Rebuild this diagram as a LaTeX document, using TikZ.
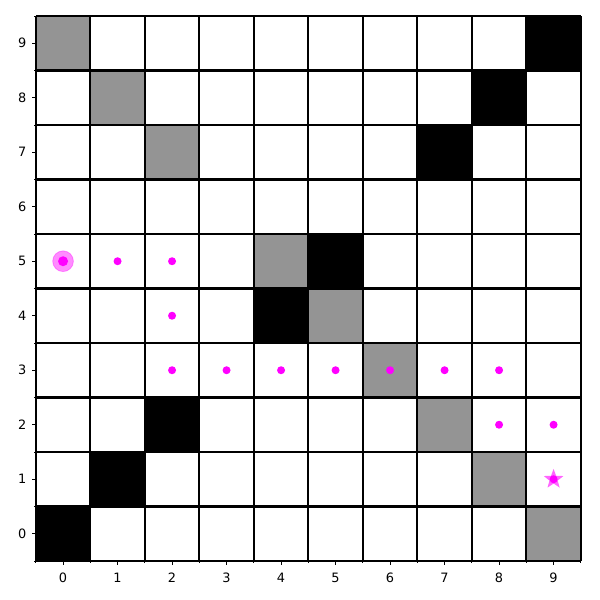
\documentclass[tikz,border=0pt]{standalone}
\usepackage{fontspec}
\setmainfont{DejaVu Sans}
\usetikzlibrary{shapes.geometric}
\definecolor{cellgray}{RGB}{148,148,148}
\definecolor{mag}{RGB}{255,0,255}
\tikzset{
  grayc/.style={fill=cellgray},
  blackc/.style={fill=black},
  gridline/.style={line width=1.8pt,black},
  pathdot/.style={circle,fill=mag,inner sep=0pt,minimum size=0.24cm},
  ticklab/.style={font=\fontsize{11}{13}\selectfont,inner sep=0pt},
  majtick/.style={line width=0.6pt},
}
\begin{document}
\begin{tikzpicture}[x=0.03cm,y=0.03cm]
\useasboundingbox (0,0) rectangle (600,600);
\fill[white] (0,0) rectangle (600,600);
\begin{scope}[shift={(35.8,39)},x=1.635cm,y=1.635cm]
  % cells
  \foreach \c/\r in {0/9,1/8,2/7,4/5,5/4,6/3,7/2,8/1,9/0}
    \fill[grayc] (\c,\r) rectangle ++(1,1);
  \foreach \c/\r in {9/9,8/8,7/7,5/5,4/4,2/2,1/1,0/0}
    \fill[blackc] (\c,\r) rectangle ++(1,1);
  % grid
  \foreach \i in {0,...,10} {
    \draw[gridline] (\i,0) -- (\i,10);
    \draw[gridline] (0,\i) -- (10,\i);
  }
  % ticks and labels
  \foreach \i in {0,...,9} {
    \draw[majtick] (\i+0.5,0) -- ++(0,-0.065);
    \draw[majtick] (0,\i+0.5) -- ++(-0.065,0);
    \node[ticklab] (xl\i) at (\i+0.5,-0.31) {\i};
    \node[ticklab] (yl\i) at (-0.25,\i+0.5) {\i};
  }
  \foreach \i in {0,...,10} {
    \draw[majtick] (\i,0) -- ++(0,-0.04);
    \draw[majtick] (0,\i) -- ++(-0.04,0);
  }
  % start
  \fill[mag,opacity=0.45] (0.5,5.5) circle (0.19);
  \draw[mag,opacity=0.35,line width=0.7pt] (0.5,5.5) circle (0.19);
  \node[circle,fill=mag,inner sep=0pt,minimum size=0.3cm] (start) at (0.5,5.5) {};
  % path
  \foreach \c/\r [count=\k] in {1/5,2/5,2/4,2/3,3/3,4/3,5/3,6/3,7/3,8/3,8/2,9/2}
    \node[pathdot] (p\k) at (\c+0.5,\r+0.5) {};
  % goal
  \node[star,star points=5,star point ratio=2.4,fill=mag,opacity=0.6,inner sep=0pt,minimum size=0.62cm] (goalstar) at (9.5,1.5) {};
  \node[pathdot] (goal) at (9.5,1.5) {};
\end{scope}
\end{tikzpicture}
\end{document}
